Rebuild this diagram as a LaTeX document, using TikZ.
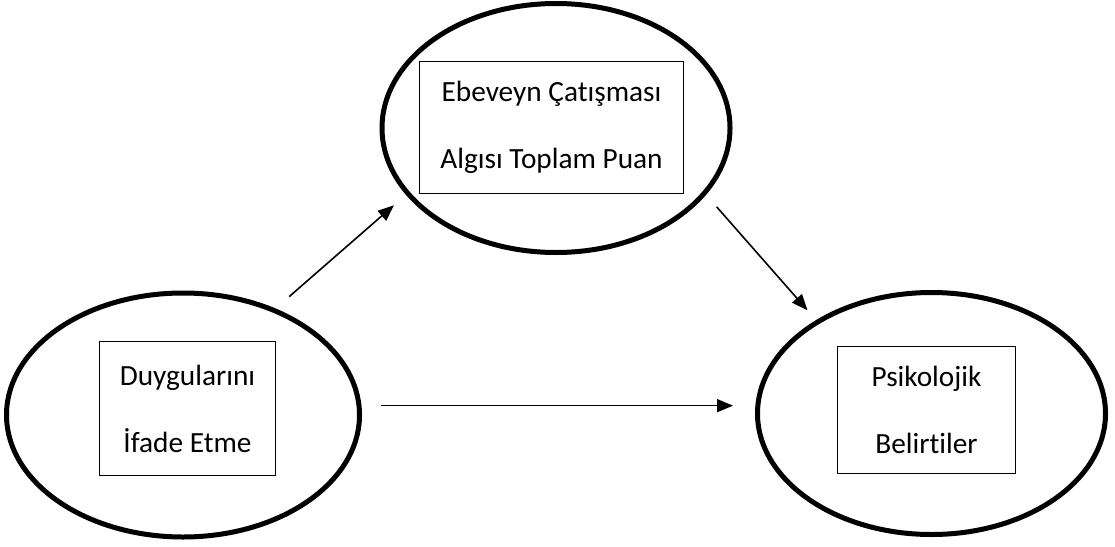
\documentclass[tikz,border=0pt]{standalone}
\usepackage{fontspec}
\setmainfont{Carlito}[Ligatures={NoCommon}]
\usetikzlibrary{shapes.geometric,arrows.meta}
\begin{document}
\begin{tikzpicture}[x=1pt,y=-1pt]
\tikzstyle{arrow} = [line width=1.6pt, -{Triangle[length=16pt,width=13pt]}]
\tikzstyle{oval} = [ellipse, line width=5pt, draw = black]
\tikzstyle{box} = [rectangle, line width=1pt, draw = black, align=center, font=\fontsize{29.3}{67}\selectfont]
\useasboundingbox (0,0) rectangle (1115,546);
\node[oval, minimum width=353pt, minimum height=244pt](duygu) at (183,415){};
\node[oval, minimum width=348pt, minimum height=249pt](ebeveyn) at (556,128){};
\node[oval, minimum width=348pt, minimum height=242pt](psikolojik) at (931.5,413.5){};
\node[box, minimum width=176pt, minimum height=134pt](duyguBox) at (187.5,408.5){Duygularını\\İfade Etme};
\node[box, minimum width=264pt, minimum height=132pt](ebeveynBox) at (551.5,127.5){Ebeveyn Çatışması\\Algısı Toplam Puan};
\node[box, minimum width=178pt, minimum height=127pt](psikolojikBox) at (926.5,410){Psikolojik\\Belirtiler};
\draw[arrow, shorten <=18pt, shorten >=16pt] (duygu.49.5)--(ebeveyn.204.8);
\draw[arrow, shorten <=16pt, shorten >=13pt] (ebeveyn.336.2)--(psikolojik.141.8);
\draw[arrow, shorten <=20pt, shorten >=22pt] (duygu.3)--(duygu.3 -| psikolojik.west);
\end{tikzpicture}
\end{document}
